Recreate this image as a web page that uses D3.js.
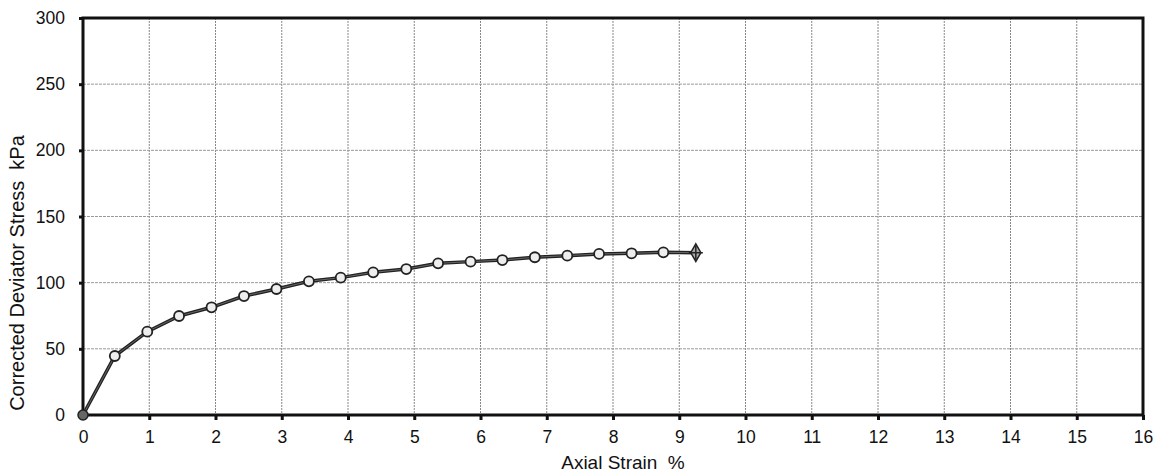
<!DOCTYPE html>
<html>
<head>
<meta charset="utf-8">
<script src="https://cdn.jsdelivr.net/npm/d3@7"></script>
<style>
  body { margin: 0; background: #fff; }
  text { font-family: "Liberation Sans", Arial, sans-serif; fill: #111; white-space: pre; }
</style>
</head>
<body>
<svg id="chart" width="1155" height="472"></svg>
<script>
// strain (%) vs corrected deviator stress (kPa)
const strain = [0, 0.48, 0.97, 1.45, 1.94, 2.43, 2.92, 3.41, 3.89, 4.38, 4.88, 5.36, 5.85, 6.33, 6.82, 7.31, 7.79, 8.28, 8.76, 9.25]
const stress = [0, 44.6, 63, 74.8, 81.4, 89.9, 95.2, 101, 103.8, 107.8, 110.3, 114.6, 115.9, 117.1, 119.2, 120.4, 121.7, 122.2, 122.9, 122.7]
const xTicks = d3.range(0, 17, 1)
const yTicks = [0, 50, 100, 150, 200, 250, 300]

const margin = { top: 18, right: 12, bottom: 57, left: 83 }
const width = 1155, height = 472

const svg = d3.select("#chart")
const xScale = d3.scaleLinear().domain([0, 16]).range([margin.left, width - margin.right])
const yScale = d3.scaleLinear().domain([0, 300]).range([height - margin.bottom, margin.top])

// grid
svg.append("g").selectAll("line.vg")
    .data(xTicks.slice(1, -1))
    .enter().append("line")
    .attr("x1", d => xScale(d)).attr("x2", d => xScale(d))
    .attr("y1", yScale(300)).attr("y2", yScale(0))
    .attr("stroke", "#888").attr("stroke-width", 1).attr("stroke-dasharray", "2,1")

svg.append("g").selectAll("line.hg")
    .data(yTicks.slice(1, -1))
    .enter().append("line")
    .attr("x1", xScale(0)).attr("x2", xScale(16))
    .attr("y1", d => yScale(d)).attr("y2", d => yScale(d))
    .attr("stroke", "#999").attr("stroke-width", 1).attr("stroke-dasharray", "3,1")

// axes
const xAxis = svg.append("g")
    .attr("transform", "translate(0," + yScale(0) + ")")
    .call(d3.axisBottom(xScale).tickValues(xTicks).tickSize(5).tickPadding(11).tickFormat(d3.format("d")))
const yAxis = svg.append("g")
    .attr("transform", "translate(" + xScale(0) + ",0)")
    .call(d3.axisLeft(yScale).tickValues(yTicks).tickSize(4).tickPadding(14))
;[xAxis, yAxis].forEach(a => {
    a.select(".domain").remove()
    a.selectAll("line").attr("stroke", "#111").attr("stroke-width", 3)
    a.selectAll("text").style("font-size", "17.5px").attr("fill", "#111")
})

// frame
svg.append("rect")
    .attr("x", xScale(0)).attr("y", yScale(300))
    .attr("width", xScale(16) - xScale(0)).attr("height", yScale(0) - yScale(300))
    .attr("fill", "none").attr("stroke", "#111").attr("stroke-width", 3)

// axis titles
svg.append("text")
    .attr("x", 623).attr("y", 469)
    .attr("text-anchor", "middle").style("font-size", "19px")
    .text("Axial Strain  %")
svg.append("text")
    .attr("transform", "translate(24,273) rotate(-90)")
    .attr("text-anchor", "middle").style("font-size", "20px")
    .text("Corrected Deviator Stress  kPa")

// curve
const pts = strain.map((s, i) => [s, stress[i]])
const line = d3.line().x(d => xScale(d[0])).y(d => yScale(d[1]))
svg.append("path")
    .attr("d", line(pts))
    .attr("fill", "none").attr("stroke", "#222").attr("stroke-width", 3.5)
svg.append("path")
    .attr("d", line(pts))
    .attr("fill", "none").attr("stroke", "#666").attr("stroke-width", 1)

// markers
const inner = pts.slice(1, -1)
svg.append("g").selectAll("circle")
    .data(inner)
    .enter().append("circle")
    .attr("cx", d => xScale(d[0])).attr("cy", d => yScale(d[1]))
    .attr("r", 5).attr("fill", "#eee").attr("stroke", "#222").attr("stroke-width", 1.8)

svg.append("circle")
    .attr("cx", xScale(pts[0][0])).attr("cy", yScale(pts[0][1]))
    .attr("r", 5).attr("fill", "#666").attr("stroke", "#222").attr("stroke-width", 1.5)

const last = pts[pts.length - 1]
const lx = xScale(last[0]), ly = yScale(last[1])
svg.append("path")
    .attr("d", d3.symbol().type(d3.symbolDiamond).size(90)())
    .attr("transform", "translate(" + lx + "," + ly + ")")
    .attr("fill", "#aaa").attr("stroke", "#222").attr("stroke-width", 1.5)
svg.append("path")
    .attr("d", "M" + (lx - 7) + "," + ly + "H" + (lx + 7) + "M" + lx + "," + (ly - 7) + "V" + (ly + 7))
    .attr("stroke", "#222").attr("stroke-width", 1.5)
</script>
</body>
</html>
